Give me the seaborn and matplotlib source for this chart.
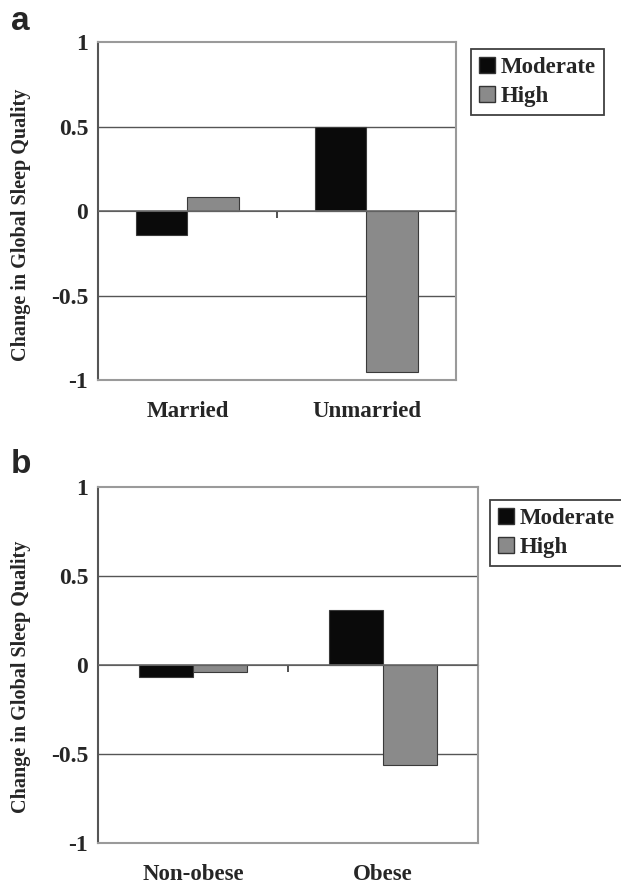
import pandas as pd
import matplotlib
matplotlib.use("Agg")
import matplotlib.pyplot as plt
import seaborn as sns
from matplotlib.patches import Patch

# Data
groups_a = ["Married", "Unmarried"]
moderate_a = [-0.14, 0.50]
high_a = [0.08, -0.95]

groups_b = ["Non-obese", "Obese"]
moderate_b = [-0.07, 0.31]
high_b = [-0.04, -0.56]

levels = ["Moderate", "High"]
yticks = [-1, -0.5, 0, 0.5, 1]
ytick_labels = ["-1", "-0.5", "0", "0.5", "1"]

sns.set_style("white")
plt.rcParams["font.family"] = ["Liberation Serif", "DejaVu Serif"]

palette = {"Moderate": "#0a0a0a", "High": "#8a8a8a"}


def make_df(groups, moderate, high):
    rows = []
    for g, m, h in zip(groups, moderate, high):
        rows.append({"group": g, "level": "Moderate", "value": m})
        rows.append({"group": g, "level": "High", "value": h})
    return pd.DataFrame(rows)


def draw_panel(fig, ax, df, letter, letter_pos, legend_pos, label_xy):
    sns.barplot(data=df, x="group", y="value", hue="level", hue_order=levels,
                palette=palette, width=0.57, edgecolor="#3a3a3a", linewidth=0.8,
                ax=ax, legend=False, zorder=3)
    ax.set_xlim(-0.5, 1.5)
    ax.set_ylim(-1, 1)
    ax.set_yticks(yticks)
    ax.set_yticklabels(ytick_labels, fontsize=17, fontweight="bold")
    ax.tick_params(axis="y", direction="out", length=5, width=1.2, color="#222222", pad=2)
    ax.tick_params(axis="x", length=0, pad=15)
    for lab in ax.get_xticklabels():
        lab.set_fontsize(16.5)
        lab.set_fontweight("bold")
    ax.set_xlabel("")
    ax.set_ylabel("Change in Global Sleep Quality", fontsize=14.5, fontweight="bold")
    ax.yaxis.set_label_coords(*label_xy)

    # gridlines and frame like the spreadsheet chart
    for y in [0.5, -0.5]:
        ax.axhline(y, color="#555555", linewidth=1.0, zorder=1)
    ax.axhline(0, color="#6a6a6a", linewidth=1.2, zorder=4)
    for side in ["top", "right", "bottom"]:
        ax.spines[side].set_color("#9a9a9a")
        ax.spines[side].set_linewidth(1.5)
    ax.spines["left"].set_color("#555555")
    ax.spines["left"].set_linewidth(1.5)

    # category ticks on the zero line
    sec = ax.secondary_xaxis(0.5)
    sec.set_xticks([-0.5, 0.5, 1.5])
    sec.set_xticklabels([])
    sec.tick_params(direction="in", length=5, width=1.2, color="#333333")
    sec.spines["bottom"].set_visible(False)

    handles = [Patch(facecolor=palette[l], edgecolor="#333333", label=l) for l in levels]
    leg = ax.legend(handles=handles, loc="upper left", bbox_to_anchor=legend_pos,
                    bbox_transform=fig.transFigure, frameon=True, fancybox=False,
                    handlelength=0.7, handleheight=0.7, handletextpad=0.25,
                    borderpad=0.35, labelspacing=0.35, borderaxespad=0,
                    prop={"size": 16.5, "weight": "bold"})
    leg.get_frame().set_edgecolor("#111111")
    leg.get_frame().set_linewidth(1.3)

    fig.text(letter_pos[0], letter_pos[1], letter, fontsize=24, fontweight="bold",
             family="Liberation Sans", va="center", ha="left")


fig = plt.figure(figsize=(6.21, 8.84), dpi=100)
ax_a = fig.add_axes([0.1578, 0.5701, 0.5765, 0.3824])
ax_b = fig.add_axes([0.1578, 0.0464, 0.6119, 0.4027])

draw_panel(fig, ax_a, make_df(groups_a, moderate_a, high_a), "a",
           (0.018, 0.976), (0.7585, 0.9446), (-0.187, 0.46))
draw_panel(fig, ax_b, make_df(groups_b, moderate_b, high_b), "b",
           (0.018, 0.475), (0.789, 0.4344), (-0.176, 0.466))

fig.savefig("out.png", dpi=100)
plt.close(fig)
